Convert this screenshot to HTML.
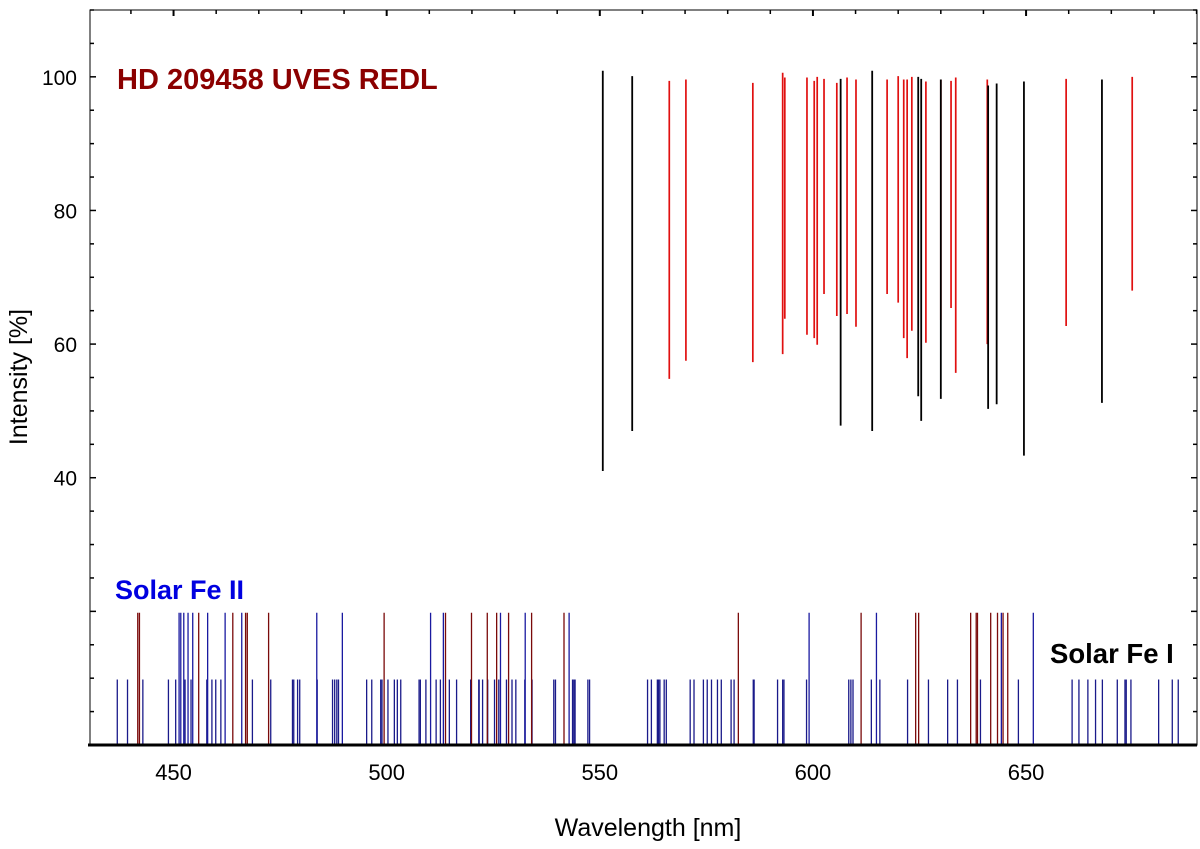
<!DOCTYPE html>
<html><head><meta charset="utf-8"><style>
html,body{margin:0;padding:0;background:#fff;}
svg{display:block;font-family:"Liberation Sans",Arial,sans-serif;}
</style></head><body>
<svg id="chart" width="1200" height="849" viewBox="0 0 1200 849" xmlns="http://www.w3.org/2000/svg">
<g id="marks"></g>
<g id="axes"></g>
<text x="117" y="89" font-size="29" font-weight="bold" fill="#8b0000">HD 209458 UVES REDL</text>
<text x="115" y="599" font-size="27" font-weight="bold" fill="#0000e0">Solar Fe II</text>
<text x="1050" y="663" font-size="27.5" font-weight="bold" fill="#000">Solar Fe I</text>
<text x="648" y="836" font-size="25" text-anchor="middle" fill="#000">Wavelength [nm]</text>
<text x="0" y="0" font-size="25" text-anchor="middle" fill="#000" transform="translate(27,377) rotate(-90)">Intensity [%]</text>
</svg>
<script>
// Star spectrum lines: wavelength, top intensity, bottom intensity
const starBlackWl = [550.7, 557.6, 606.5, 613.9, 624.7, 625.4, 630.0, 641.1, 643.1, 649.5, 667.8];
const starBlackTop = [100.9, 100.1, 99.7, 100.9, 100.0, 99.7, 99.6, 98.7, 99.0, 99.3, 99.6];
const starBlackBot = [41.0, 47.0, 47.8, 47.0, 52.2, 48.5, 51.8, 50.3, 51.0, 43.3, 51.2];
const starRedWl = [566.3, 570.2, 585.9, 592.9, 593.4, 598.6, 600.3, 601.0, 602.6, 605.6, 608.0, 610.1, 617.4, 620.0, 621.3, 622.1, 623.2, 626.5, 630.0, 632.4, 633.5, 640.9, 659.4, 674.9];
const starRedTop = [99.4, 99.6, 99.1, 100.6, 99.9, 99.9, 99.4, 100.0, 99.7, 99.1, 99.9, 99.6, 99.6, 100.1, 99.6, 99.6, 100.0, 99.3, 99.6, 99.4, 99.9, 99.6, 99.7, 100.0];
const starRedBot = [54.8, 57.5, 57.3, 58.5, 63.8, 61.4, 60.9, 59.9, 67.5, 64.2, 64.5, 62.6, 67.5, 66.2, 60.9, 57.9, 62.0, 60.2, 63.6, 65.4, 55.7, 60.0, 62.7, 68.0];
// Solar reference lines
const tallRedWl = [441.6, 442.0, 455.9, 463.9, 466.9, 467.3, 472.3, 499.4, 513.8, 519.9, 523.6, 525.8, 528.6, 534.0, 541.6, 582.5, 611.3, 624.1, 624.8, 637.0, 638.3, 638.6, 641.7, 643.3, 644.6, 645.7];
const tallBlueWl = [451.3, 451.7, 452.4, 453.4, 454.5, 458.0, 462.1, 466.0, 483.6, 489.6, 510.3, 513.3, 526.7, 532.5, 542.8, 599.1, 614.9, 644.2, 651.7];
const shortWl = [436.8, 439.2, 442.8, 448.8, 450.5, 452.7, 454.1, 457.8, 459.0, 459.9, 461.1, 468.5, 472.8, 477.9, 478.2, 479.1, 479.6, 483.7, 487.3, 487.8, 488.3, 488.7, 495.3, 496.5, 498.6, 498.9, 500.3, 501.8, 502.5, 503.3, 507.6, 507.9, 509.2, 511.6, 512.6, 514.7, 516.4, 519.7, 521.6, 521.7, 522.5, 523.7, 525.3, 526.3, 528.1, 529.4, 530.3, 532.4, 534.1, 539.2, 539.6, 543.6, 543.9, 544.2, 547.2, 547.6, 561.2, 562.1, 563.5, 563.8, 564.1, 565.1, 565.6, 571.2, 572.1, 574.3, 575.2, 576.2, 577.6, 578.5, 580.8, 581.5, 586.0, 586.2, 591.7, 592.9, 593.2, 598.5, 608.4, 608.9, 609.4, 613.7, 615.7, 622.2, 627.1, 631.6, 633.9, 639.3, 648.2, 660.8, 662.4, 664.5, 666.3, 667.9, 671.4, 673.2, 673.5, 674.6, 681.1, 684.3, 685.7];
const tallHeight = [19.8];
const shortHeight = [9.8];
const xTicks = [450, 500, 550, 600, 650];
const yTicks = [40, 60, 80, 100];

const X0 = 90, X1 = 1197, Y0 = 10, Y1 = 745;
const WL0 = 430.4, WL1 = 690.1, I0 = 0, I1 = 110;
function xs(v){ return X0 + (v - WL0) / (WL1 - WL0) * (X1 - X0); }
function ys(v){ return Y1 - (v - I0) / (I1 - I0) * (Y1 - Y0); }
const NS = 'http://www.w3.org/2000/svg';
const marks = document.getElementById('marks');
const axes = document.getElementById('axes');
function line(parent, x1, y1, x2, y2, stroke, w){
  const l = document.createElementNS(NS, 'line');
  l.setAttribute('x1', x1); l.setAttribute('y1', y1);
  l.setAttribute('x2', x2); l.setAttribute('y2', y2);
  l.setAttribute('stroke', stroke); l.setAttribute('stroke-width', w);
  parent.appendChild(l);
  return l;
}
shortWl.forEach(function(w){
  const l = line(marks, xs(w), ys(0), xs(w), ys(shortHeight[0]), '#1a1a8a', 1.3);
  
  
});
tallBlueWl.forEach(function(w){
  const l = line(marks, xs(w), ys(0), xs(w), ys(tallHeight[0]), '#1a1aa0', 1.3);
  
  
});
tallRedWl.forEach(function(w){
  const l = line(marks, xs(w), ys(0), xs(w), ys(tallHeight[0]), '#7a0a0a', 1.3);
  
  
});
starRedWl.forEach(function(w, i){
  const l = line(marks, xs(w), ys(starRedTop[i]), xs(w), ys(starRedBot[i]), '#e01010', 1.7);
  
  
});
starBlackWl.forEach(function(w, i){
  const l = line(marks, xs(w), ys(starBlackTop[i]), xs(w), ys(starBlackBot[i]), '#000', 1.8);
  
  
});
const fr = document.createElementNS(NS, 'rect');
fr.setAttribute('x', X0); fr.setAttribute('y', Y0);
fr.setAttribute('width', X1 - X0); fr.setAttribute('height', Y1 - Y0);
fr.setAttribute('fill', 'none'); fr.setAttribute('stroke', '#000'); fr.setAttribute('stroke-width', 1);


axes.appendChild(fr);
const xa = line(axes, X0 - 2, Y1, X1, Y1, '#000', 3);


for (let w = 440; w <= 690; w += 10){
  const major = (w % 50 === 0);
  const t = line(axes, xs(w), Y0, xs(w), Y0 + (major ? 6 : 4), '#000', major ? 2 : 1.5);
  
  
}
xTicks.forEach(function(w){
  const t = document.createElementNS(NS, 'text');
  t.setAttribute('x', xs(w)); t.setAttribute('y', 780);
  t.setAttribute('font-size', '22'); t.setAttribute('text-anchor', 'middle');
  t.textContent = w;
  
  
  axes.appendChild(t);
});
for (let v = 5; v <= 110; v += 5){
  const major = (v % 20 === 0);
  const a = line(axes, X0, ys(v), X0 + (major ? 6 : 4), ys(v), '#000', 1.5);
  
  
  const b = line(axes, X1 - (major ? 6 : 4), ys(v), X1, ys(v), '#000', 1.5);
  
  
}
yTicks.forEach(function(v){
  const t = document.createElementNS(NS, 'text');
  t.setAttribute('x', 77); t.setAttribute('y', ys(v) + 8);
  t.setAttribute('font-size', '21'); t.setAttribute('text-anchor', 'end');
  t.textContent = v;
  
  
  axes.appendChild(t);
});
</script>
</body></html>
